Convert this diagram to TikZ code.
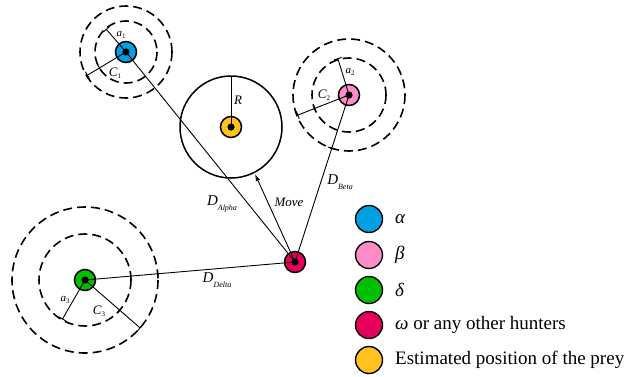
\documentclass[tikz,border=0pt]{standalone}
\usepackage{fontspec}
\setmainfont{Liberation Serif}
\usetikzlibrary{calc,arrows.meta}
\definecolor{calpha}{HTML}{00A0E2}
\definecolor{cbeta}{HTML}{FF8CC8}
\definecolor{cdelta}{HTML}{00BE00}
\definecolor{comega}{HTML}{E6005C}
\definecolor{cprey}{HTML}{FFC21E}
\newcommand{\lbl}[3]{\fontsize{#1}{#1}\selectfont\textit{#2}{\fontsize{7}{7}\selectfont\raisebox{-0.3em}{#3}}}
\begin{document}
\begin{tikzpicture}[x=1pt,y=-1pt,
  hunter/.style={circle,draw=black,line width=1.5pt,minimum size=21pt,inner sep=0pt},
  legc/.style={circle,draw=black,line width=1.4pt,minimum size=27pt,inner sep=0pt},
  ring/.style={draw=black,line width=1.6pt,dash pattern=on 9pt off 5pt},
  thin/.style={draw=black,line width=0.9pt},
  lab/.style={inner sep=0pt},
  legt/.style={anchor=west,inner sep=0pt,font=\fontsize{19}{22}\selectfont}
]
\useasboundingbox (0,0) rectangle (626,376);
% dashed rings
\draw[ring] (126,52) circle (31);
\draw[ring] (126,52) circle (46);
\draw[ring] (349,95) circle (37);
\draw[ring] (349,95) circle (56);
\draw[ring] (85,280) circle (46);
\draw[ring] (85,280) circle (73);
% prey region
\draw[black,line width=1.5pt] (231,127) circle (51);
% nodes
\node[hunter,fill=calpha] (A) at (126,52) {};
\node[hunter,fill=cbeta] (B) at (349,95) {};
\node[hunter,fill=cdelta] (D) at (85,280) {};
\node[hunter,fill=comega] (W) at (295,262) {};
\node[hunter,fill=cprey] (P) at (231,127) {};
% R
\coordinate (Rt) at ($(P)+(0,-51)$);
\draw[thin] (P.center) -- (Rt);
% alpha radii
\coordinate (a1e) at ($(A)+(-131:30)$);
\coordinate (c1e) at ($(A)+(149:45)$);
\coordinate (c1i) at ($(A)+(149:31)$);
\draw[thin] (A.center) -- (a1e);
\draw[thin] ($(a1e)!4pt!90:(A)$) -- ($(a1e)!4pt!-90:(A)$);
\draw[thin] (A.center) -- (c1e);
\draw[thin] ($(c1e)!4pt!90:(A)$) -- ($(c1e)!4pt!-90:(A)$);
\draw[thin] ($(c1i)!4pt!90:(A)$) -- ($(c1i)!4pt!-90:(A)$);
% beta radii
\coordinate (a2e) at ($(B)+(-107:38)$);
\coordinate (c2e) at ($(B)+(158.6:55)$);
\coordinate (bt) at ($(B)!56pt!(W)$);
\draw[thin] (B.center) -- (a2e);
\draw[thin] ($(a2e)!4pt!90:(B)$) -- ($(a2e)!4pt!-90:(B)$);
\draw[thin] (B.center) -- (c2e);
\draw[thin] ($(c2e)!4pt!90:(B)$) -- ($(c2e)!4pt!-90:(B)$);
\draw[thin] ($(bt)!4pt!90:(B)$) -- ($(bt)!4pt!-90:(B)$);
% delta radii
\coordinate (a3e) at ($(D)+(120:45)$);
\coordinate (c3e) at ($(D)+(41:73)$);
\coordinate (c3i) at ($(D)+(41:46)$);
\coordinate (dt1) at ($(D)!46pt!(W)$);
\coordinate (dt2) at ($(D)!73pt!(W)$);
\draw[thin] (D.center) -- (a3e);
\draw[thin] ($(a3e)!4pt!90:(D)$) -- ($(a3e)!4pt!-90:(D)$);
\draw[thin] (D.center) -- (c3e);
\draw[thin] ($(c3e)!4pt!90:(D)$) -- ($(c3e)!4pt!-90:(D)$);
\draw[thin] ($(c3i)!4pt!90:(D)$) -- ($(c3i)!4pt!-90:(D)$);
\draw[thin] ($(dt1)!4pt!90:(D)$) -- ($(dt1)!4pt!-90:(D)$);
\draw[thin] ($(dt2)!4pt!90:(D)$) -- ($(dt2)!4pt!-90:(D)$);
% distances
\draw[thin] (A.center) -- (W.center);
\draw[thin] (B.center) -- (W.center);
\draw[thin] (D.center) -- (W.center);
\coordinate (M) at ($(P)+(24,47)$);
\draw[thin,-{Latex[length=7pt,width=4.5pt]}] (W.center) -- (M);
% center dots
\foreach \n in {A,B,D,W,P} \fill[black] (\n) circle (3.6);
% labels
\node[lab] (lR) at (238,100) {\fontsize{13}{13}\selectfont\textit{R}};
\node[lab] (la1) at (121,35) {\lbl{11}{a}{1}};
\node[lab] (lc1) at (115,73) {\lbl{13}{C}{1}};
\node[lab] (la2) at (350,72) {\lbl{11}{a}{2}};
\node[lab] (lc2) at (324,95) {\lbl{13}{C}{2}};
\node[lab] (la3) at (65,300) {\lbl{11}{a}{3}};
\node[lab] (lc3) at (99,311) {\lbl{13}{C}{3}};
\node[lab] (lDA) at (222,204) {\fontsize{15}{15}\selectfont\textit{D}{\fontsize{8}{8}\selectfont\raisebox{-0.6em}{\textit{Alpha}}}};
\node[lab] (lDB) at (340,182) {\fontsize{15}{15}\selectfont\textit{D}{\fontsize{8}{8}\selectfont\raisebox{-0.6em}{\textit{Beta}}}};
\node[lab] (lDD) at (217,280) {\fontsize{15}{15}\selectfont\textit{D}{\fontsize{8}{8}\selectfont\raisebox{-0.6em}{\textit{Delta}}}};
\node[lab] (lM) at (289,202) {\fontsize{13}{13}\selectfont\textit{Move}};
% legend
\node[legc,fill=calpha] (L1) at (369,219) {};
\node[legc,fill=cbeta] (L2) at (369,255) {};
\node[legc,fill=cdelta] (L3) at (369,290) {};
\node[legc,fill=comega] (L4) at (369,325) {};
\node[legc,fill=cprey] (L5) at (369,360) {};
\node[legt] (T1) at (395,219) {\textit{α}};
\node[legt] (T2) at (395,255) {\textit{β}};
\node[legt] (T3) at (395,290) {\textit{δ}};
\node[legt] (T4) at (395,325) {\textit{ω} or any other hunters};
\node[legt] (T5) at (395,360) {Estimated position of the prey};
\end{tikzpicture}
\end{document}
